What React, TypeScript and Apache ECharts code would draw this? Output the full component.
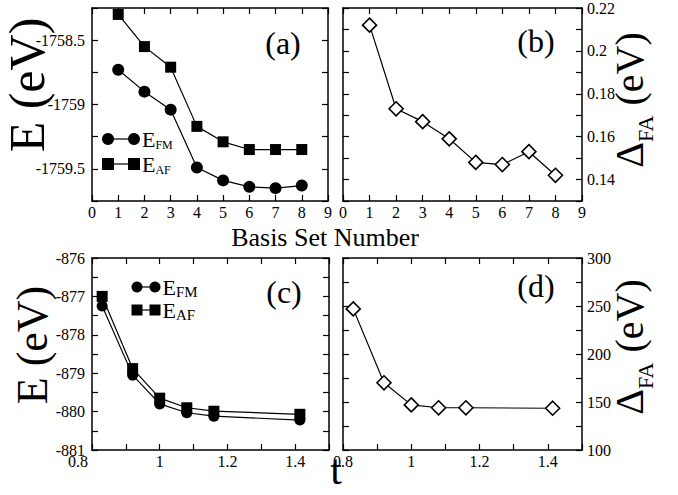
import React, { useEffect, useRef } from "react";
import * as echarts from "echarts";

// ---- data ----
const basisSet = [1, 2, 3, 4, 5, 6, 7, 8];
const efmA = [-1758.73, -1758.9, -1759.04, -1759.49, -1759.59, -1759.64, -1759.65, -1759.63];
const eafA = [-1758.3, -1758.55, -1758.71, -1759.17, -1759.29, -1759.35, -1759.35, -1759.35];
const deltaB = [0.212, 0.173, 0.167, 0.159, 0.148, 0.147, 0.153, 0.142];
const tValues = [0.83, 0.92, 1.0, 1.08, 1.16, 1.414];
const efmC = [-877.25, -879.05, -879.8, -880.03, -880.12, -880.22];
const eafC = [-877.0, -878.88, -879.65, -879.9, -879.99, -880.07];
const deltaD = [247, 170, 147, 144, 144, 143.5];

const FONT = "Liberation Serif";

const round = (v: number, d: number) => Math.round(v * Math.pow(10, d)) / Math.pow(10, d);

function axis(
  gridIndex: number,
  position: string,
  min: number,
  max: number,
  interval: number,
  formatter: ((v: number) => string) | null,
  margin: number,
  rich?: any
) {
  return {
    type: "value",
    gridIndex,
    position,
    min,
    max,
    interval,
    axisLine: { show: true, onZero: false, lineStyle: { color: "#000", width: 1.5 } },
    axisTick: { show: true, inside: true, length: 6, lineStyle: { color: "#000", width: 1.2 } },
    splitLine: { show: false },
    axisLabel: formatter
      ? {
          show: true,
          formatter,
          color: "#000",
          fontFamily: FONT,
          fontSize: 16,
          margin,
          showMinLabel: true,
          showMaxLabel: true,
          rich,
        }
      : { show: false },
  };
}

const lineSeries = (xi: number, yi: number, xs: number[], ys: number[], symbol: string, size: number, hollow = false) => ({
  type: "line",
  xAxisIndex: xi,
  yAxisIndex: yi,
  data: xs.map((x, i) => [x, ys[i]]),
  symbol,
  symbolSize: size,
  showAllSymbol: true,
  itemStyle: hollow ? { color: "#fff", borderColor: "#000", borderWidth: 1.6 } : { color: "#000" },
  lineStyle: { color: "#000", width: 1.2 },
  z: hollow ? 3 : 2,
});

function legendItems(x0: number, x1: number, y1: number, y2: number, r: number, mainSize: number, subSize: number) {
  const txt = (y: number, sub: string) => ({
    type: "text",
    x: x1 + r + 2,
    y,
    style: {
      text: `{m|E}{s|${sub}}`,
      align: "left",
      verticalAlign: "middle",
      fill: "#000",
      rich: {
        m: { fontSize: mainSize, fontFamily: FONT, lineHeight: mainSize + 2, fill: "#000" },
        s: { fontSize: subSize, fontFamily: FONT, lineHeight: subSize, verticalAlign: "bottom", fill: "#000" },
      },
    },
  });
  return [
    { type: "line", shape: { x1: x0, y1, x2: x1, y2: y1 }, style: { stroke: "#000", lineWidth: 1.2 } },
    { type: "circle", shape: { cx: x0, cy: y1, r }, style: { fill: "#000" } },
    { type: "circle", shape: { cx: x1, cy: y1, r }, style: { fill: "#000" } },
    txt(y1, "FM"),
    { type: "line", shape: { x1: x0, y1: y2, x2: x1, y2 }, style: { stroke: "#000", lineWidth: 1.2 } },
    { type: "rect", shape: { x: x0 - r, y: y2 - r, width: 2 * r, height: 2 * r }, style: { fill: "#000" } },
    { type: "rect", shape: { x: x1 - r, y: y2 - r, width: 2 * r, height: 2 * r }, style: { fill: "#000" } },
    txt(y2, "AF"),
  ];
}

const deltaTitle = (x: number, y: number) => ({
  type: "text",
  x,
  y,
  rotation: Math.PI / 2,
  style: {
    text: "{m|Δ}{s|FA}{m| (eV)}",
    align: "center",
    verticalAlign: "middle",
    fill: "#000",
    rich: {
      m: { fontSize: 40, fontFamily: FONT, lineHeight: 54, fill: "#000" },
      s: { fontSize: 22, fontFamily: FONT, lineHeight: 22, verticalAlign: "bottom", fill: "#000" },
    },
  },
});

const panelLabel = (text: string, x: number, y: number) => ({
  type: "text",
  x,
  y,
  style: { text, fontSize: 32, fontFamily: FONT, fill: "#000", align: "center", verticalAlign: "middle" },
});

export default function App() {
  const ref = useRef<HTMLDivElement>(null);
  useEffect(() => {
    if (!ref.current) return;
    const chart = echarts.init(ref.current, undefined, { renderer: "svg" });
    const fmtA = (v: number) => (Math.abs(v * 2 - Math.round(v * 2)) < 1e-6 ? String(round(v, 2)) : "");
    const fmtInt = (v: number) => String(round(v, 2));
    const fmtB = (v: number) => (Math.round(v * 100) % 2 === 0 ? String(round(v, 2)) : "");
    const fmtT = (v: number) => {
      const k = Math.round(v * 10);
      if (k % 2 !== 0) return "";
      return String(round(v, 2));
    };
    const fmtTc = (v: number) => {
      const k = Math.round(v * 10);
      if (k % 2 !== 0) return "";
      if (k === 8) return "{l|0.8}";
      return String(round(v, 2));
    };
    const fmtCy = (v: number) => (Math.abs(v - Math.round(v)) < 1e-6 ? String(Math.round(v)) : "");
    const fmtD = (v: number) => (Math.round(v) % 50 === 0 ? String(Math.round(v)) : "");
    const richC = { l: { fontSize: 16, fontFamily: FONT, color: "#000", padding: [0, 28, 0, 0] } };

    chart.setOption({
      animation: false,
      backgroundColor: "#fff",
      textStyle: { fontFamily: FONT },
      grid: [
        { left: 92, top: 8, width: 236, height: 193 },
        { left: 343, top: 8, width: 239, height: 193 },
        { left: 92, top: 258, width: 237, height: 192 },
        { left: 343, top: 258, width: 239, height: 192 },
      ],
      xAxis: [
        axis(0, "bottom", 0, 9, 1, fmtInt, 3),
        axis(0, "top", 0, 9, 1, null, 0),
        axis(1, "bottom", 0, 9, 1, fmtInt, 3),
        axis(1, "top", 0, 9, 1, null, 0),
        axis(2, "bottom", 0.8, 1.5, 0.1, fmtTc, 3, richC),
        axis(2, "top", 0.8, 1.5, 0.1, null, 0),
        axis(3, "bottom", 0.8, 1.5, 0.1, fmtT, 3),
        axis(3, "top", 0.8, 1.5, 0.1, null, 0),
      ],
      yAxis: [
        axis(0, "left", -1759.75, -1758.25, 0.25, fmtA, 7),
        axis(0, "right", -1759.75, -1758.25, 0.25, null, 0),
        axis(1, "right", 0.13, 0.22, 0.01, fmtB, 5),
        axis(1, "left", 0.13, 0.22, 0.01, null, 0),
        axis(2, "left", -881, -876, 0.5, fmtCy, 7),
        axis(2, "right", -881, -876, 0.5, null, 0),
        axis(3, "right", 100, 300, 25, fmtD, 5),
        axis(3, "left", 100, 300, 25, null, 0),
      ],
      series: [
        lineSeries(0, 0, basisSet, efmA, "circle", 12),
        lineSeries(0, 0, basisSet, eafA, "rect", 11),
        lineSeries(2, 2, basisSet, deltaB, "diamond", 14, true),
        lineSeries(4, 4, tValues, efmC, "circle", 11),
        lineSeries(4, 4, tValues, eafC, "rect", 11),
        lineSeries(6, 6, tValues, deltaD, "diamond", 14, true),
      ],
      graphic: [
        ...legendItems(108, 134, 139, 164, 6, 22, 12),
        ...legendItems(137, 155, 287, 310, 5.5, 22, 15),
        panelLabel("(a)", 283, 43),
        panelLabel("(b)", 536, 41),
        panelLabel("(c)", 284, 292),
        panelLabel("(d)", 536, 286),
        {
          type: "text",
          x: 27,
          y: 85,
          rotation: Math.PI / 2,
          style: { text: "E (eV)", fontSize: 50, fontFamily: FONT, fill: "#000", align: "center", verticalAlign: "middle" },
        },
        {
          type: "text",
          x: 32,
          y: 345,
          rotation: Math.PI / 2,
          style: { text: "E (eV)", fontSize: 44, fontFamily: FONT, fill: "#000", align: "center", verticalAlign: "middle" },
        },
        deltaTitle(629, 100),
        deltaTitle(629, 347),
        {
          type: "text",
          x: 325,
          y: 237,
          style: { text: "Basis Set Number", fontSize: 26, fontFamily: FONT, fill: "#000", align: "center", verticalAlign: "middle" },
        },
        {
          type: "text",
          x: 336,
          y: 470,
          style: { text: "t", fontSize: 42, fontFamily: FONT, fill: "#000", align: "center", verticalAlign: "middle" },
        },
      ],
    });
    return () => chart.dispose();
  }, []);
  return <div ref={ref} style={{ position: "fixed", left: 0, top: 0, width: 678, height: 495, background: "#fff" }} />;
}
